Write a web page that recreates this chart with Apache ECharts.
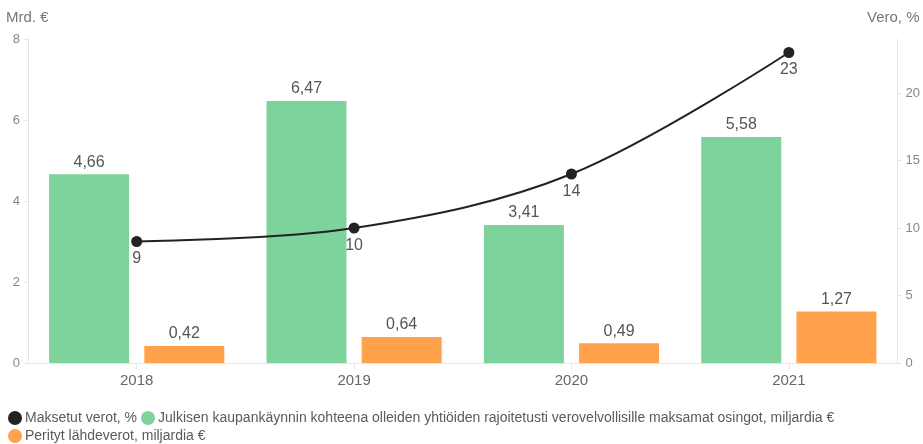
<!DOCTYPE html>
<html><head><meta charset="utf-8">
<script src="https://cdn.jsdelivr.net/npm/echarts@6/dist/echarts.min.js"></script>
<style>html,body{margin:0;padding:0;background:#fff}#c{width:923px;height:444px}</style>
</head><body><div id="c"></div>
<script>
const categories = ['2018', '2019', '2020', '2021'];
const taxRate = [9, 10, 14, 23];
const dividends = [4.66, 6.47, 3.41, 5.58];
const withholding = [0.42, 0.64, 0.49, 1.27];
const leftTicks = [0, 2, 4, 6, 8];
const rightTicks = [0, 5, 10, 15, 20];
const seriesNames = ['Maksetut verot, %', 'Julkisen kaupankäynnin kohteena olleiden yhtiöiden rajoitetusti verovelvollisille maksamat osingot, miljardia €', 'Perityt lähdeverot, miljardia €'];

const FONT = "'Liberation Sans Narrow', 'Liberation Sans', sans-serif";
const fmt = v => String(v.toFixed(2)).replace('.', ',');
const chart = echarts.init(document.getElementById('c'), null, {renderer: 'canvas'});
chart.setOption({
  animation: false,
  textStyle: {fontFamily: FONT},
  grid: {left: 28, right: 25, top: 39, bottom: 81, containLabel: false},
  legend: {
    left: 8, top: 411, width: 835, padding: 0,
    itemWidth: 14, itemHeight: 14, itemGap: 4,
    icon: 'circle',
    textStyle: {fontFamily: FONT, fontSize: 14, color: '#5a5a5a', padding: [0, 0, 0, -2]},
    data: seriesNames
  },
  xAxis: {
    type: 'category', data: categories,
    axisLine: {lineStyle: {color: '#e6e6e6'}},
    axisTick: {show: true, alignWithLabel: true, length: 6, lineStyle: {color: '#e6e6e6'}},
    axisLabel: {color: '#666', fontSize: 15, margin: 10, fontFamily: FONT}
  },
  yAxis: [{
    type: 'value', min: 0, max: 8, interval: 2,
    name: 'Mrd. €', nameLocation: 'end', nameGap: 14,
    nameTextStyle: {color: '#777', fontSize: 15, align: 'left', padding: [0, 0, 0, -22], fontFamily: FONT},
    axisLine: {show: true, lineStyle: {color: '#e6e6e6'}},
    axisTick: {show: true, length: 4, lineStyle: {color: '#e6e6e6'}},
    splitLine: {show: false},
    axisLabel: {color: '#888', fontSize: 13, margin: 8, fontFamily: FONT,
      formatter: v => leftTicks.includes(v) ? String(v) : ''}
  }, {
    type: 'value', min: 0, max: 24, interval: 5,
    name: 'Vero, %', nameLocation: 'end', nameGap: 14,
    nameTextStyle: {color: '#777', fontSize: 15, align: 'right', padding: [0, -22, 0, 0], fontFamily: FONT},
    axisLine: {show: true, lineStyle: {color: '#e6e6e6'}},
    axisTick: {show: true, length: 4, lineStyle: {color: '#e6e6e6'}},
    splitLine: {show: false},
    axisLabel: {color: '#888', fontSize: 13, margin: 8, showMaxLabel: false, fontFamily: FONT,
      formatter: v => rightTicks.includes(v) ? String(v) : ''}
  }],
  series: [{
    name: seriesNames[1], type: 'bar', yAxisIndex: 0, data: dividends,
    barWidth: 80, barGap: '19%',
    itemStyle: {color: '#7ed29b'},
    label: {show: true, position: 'top', color: '#555', fontSize: 16, distance: 4, fontFamily: FONT,
      formatter: p => fmt(p.value)}
  }, {
    name: seriesNames[2], type: 'bar', yAxisIndex: 0, data: withholding,
    barWidth: 80,
    itemStyle: {color: '#ffa24b'},
    label: {show: true, position: 'top', color: '#555', fontSize: 16, distance: 4, fontFamily: FONT,
      formatter: p => fmt(p.value)}
  }, {
    name: seriesNames[0], type: 'line', yAxisIndex: 1, data: taxRate,
    smooth: 0.35, symbol: 'circle', symbolSize: 11,
    lineStyle: {color: '#222', width: 2},
    itemStyle: {color: '#222'},
    label: {show: true, position: 'bottom', color: '#555', fontSize: 16, distance: 4, fontFamily: FONT},
    z: 5
  }]
});
</script></body></html>
